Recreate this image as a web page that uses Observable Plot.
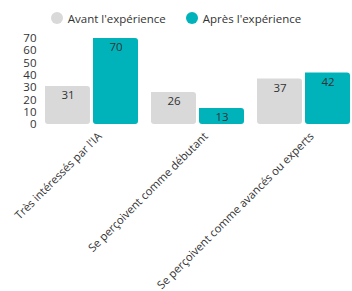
<!DOCTYPE html>
<html>
<head>
<meta charset="utf-8">
<script src="https://cdn.jsdelivr.net/npm/d3@7"></script>
<script src="https://cdn.jsdelivr.net/npm/@observablehq/plot@0.6"></script>
<style>
  body { margin: 0; background: #fff; font-family: "Open Sans", sans-serif; }
  #legend { height: 30px; display: flex; justify-content: center; align-items: center; gap: 20px; font-size: 11.5px; color: #333; padding-top: 6px; box-sizing: border-box; }
  .item { display: flex; align-items: center; gap: 5px; }
  .sw { width: 12px; height: 12px; border-radius: 50%; display: inline-block; }
  svg { overflow: visible; }
</style>
</head>
<body>
<div id="legend"></div>
<div id="chart"></div>
<script>
const categories = ["Très intéressés par l'IA", "Se perçoivent comme débutant", "Se perçoivent comme avancés ou experts"];
const series = ["Avant l'expérience", "Après l'expérience"];
const avant = [31, 26, 37];
const apres = [70, 13, 42];
const colors = ["#d9d9d9", "#00b3bb"];
const yTicks = [0, 10, 20, 30, 40, 50, 60, 70];

const data = [];
categories.forEach((c, i) => {
  data.push({category: c, series: series[0], value: avant[i]});
  data.push({category: c, series: series[1], value: apres[i]});
});

const legend = document.getElementById("legend");
series.forEach((s, i) => {
  const it = document.createElement("div");
  it.className = "item";
  it.innerHTML = `<span class="sw" style="background:${colors[i]}"></span><span>${s}</span>`;
  legend.appendChild(it);
});

const chart = Plot.plot({
  width: 352,
  height: 261,
  marginTop: 8,
  marginBottom: 167,
  marginLeft: 43,
  marginRight: 0,
  style: {fontFamily: "Open Sans, sans-serif", fontSize: "11px", color: "#333", overflow: "visible"},
  fx: {domain: categories, paddingInner: 0.1, paddingOuter: 0, label: null},
  x: {domain: series, paddingInner: 0.06, paddingOuter: 0, axis: null},
  y: {domain: [0, 70], ticks: yTicks, label: null},
  color: {domain: series, range: colors},
  marks: [
    Plot.axisY({ticks: yTicks, tickSize: 0, tickPadding: 8, label: null, fontSize: 11.5}),
    Plot.axisFx({tickRotate: -45, tickSize: 0, tickPadding: 6, dx: 8, dy: 4, label: null, fontSize: 11.2, anchor: "bottom"}),
    Plot.barY(data, {fx: "category", x: "series", y: "value", fill: "series", inset: 0, ry2: 3, rx2: 3}),
    Plot.text(data, {fx: "category", x: "series", y: "value", text: d => String(d.value), dy: 9, fill: "#333", fontSize: 11.5})
  ]
});
document.getElementById("chart").appendChild(chart);
</script>
</body>
</html>
